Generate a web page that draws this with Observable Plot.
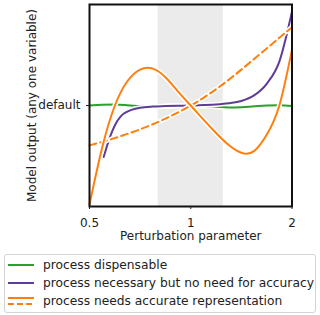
<!DOCTYPE html>
<html>
<head>
<meta charset="utf-8">
<script src="https://cdn.jsdelivr.net/npm/d3@7"></script>
<script src="https://cdn.jsdelivr.net/npm/@observablehq/plot@0.6"></script>
<style>
  html, body { margin: 0; padding: 0; background: #fff; }
  body { width: 320px; height: 315px; overflow: hidden; font-family: "DejaVu Sans", sans-serif; }
  #legend { margin: 6px 0 0 4px; width: 310px; border: 1px solid #d4d4d4; border-radius: 3px; padding: 1px 0 2px 0; font-size: 12.25px; color: #222; }
  .row { height: 18px; display: flex; align-items: center; }
  .row svg { margin-left: 3px; margin-right: 9px; }
</style>
</head>
<body>
<div id="chart"></div>
<div id="legend"></div>
<script>
// ---- data ----
const xTicks = [0.5, 1, 2];
const xTickLabels = ["0.5", "1", "2"];
const yTicks = [0];
const yTickLabels = ["default"];
const bandStart = [0.8];
const bandEnd = [1.25];

const seriesNames = [
  "process dispensable",
  "process necessary but no need for accuracy",
  "process needs accurate representation"
];
const seriesColors = ["#2ca02c", "#5e3c99", "#ff7f0e"];

// sample positions along the (log) x axis
const sampleX = [0.5, 0.545, 0.595, 0.648, 0.707, 0.771, 0.841, 0.917, 1.0, 1.091, 1.189, 1.297, 1.414, 1.542, 1.682, 1.834, 2.0];

const greenY  = [0.0, 0.008, 0.009, 0.003, -0.006, -0.012, -0.008, -0.002, 0.0, -0.004, -0.012, -0.019, -0.017, -0.008, 0.0, 0.002, -0.006];
const orangeY = [-0.98, -0.42, 0.0, 0.24, 0.355, 0.365, 0.28, 0.137, 0.0, -0.14, -0.272, -0.392, -0.468, -0.452, -0.29, 0.0, 0.553];
const dashedY = [-0.395, -0.36, -0.322, -0.281, -0.236, -0.186, -0.13, -0.068, 0.0, 0.076, 0.161, 0.255, 0.355, 0.46, 0.565, 0.67, 0.775];

const purpleX = [0.551, 0.574, 0.595, 0.62, 0.648, 0.707, 0.771, 0.841, 0.917, 1.0, 1.091, 1.189, 1.297, 1.414, 1.542, 1.682, 1.834, 2.0];
const purpleY = [-0.51, -0.32, -0.195, -0.105, -0.06, -0.022, -0.01, -0.006, -0.003, 0.0, 0.004, 0.01, 0.022, 0.045, 0.1, 0.215, 0.435, 0.93];

// ---- build tables ----
const toRows = (xs, ys) => xs.map((x, i) => ({x, y: ys[i]}));
const green = toRows(sampleX, greenY);
const purple = toRows(purpleX, purpleY);
const orange = toRows(sampleX, orangeY);
const dashed = toRows(sampleX, dashedY);
const band = bandStart.map((s, i) => ({x1: s, x2: bandEnd[i]}));

function lineWithHalo(data, color, curve, dash) {
  return [
    Plot.line(data, {x: "x", y: "y", stroke: "white", strokeWidth: 5, curve, strokeDasharray: dash}),
    Plot.line(data, {x: "x", y: "y", stroke: color, strokeWidth: 2, curve, strokeDasharray: dash})
  ];
}

const chart = Plot.plot({
  width: 320,
  height: 248,
  marginLeft: 89,
  marginRight: 28.5,
  marginTop: 4,
  marginBottom: 42,
  style: {fontFamily: "DejaVu Sans, sans-serif", fontSize: "12px", color: "#222", background: "white"},
  x: {type: "log", domain: [0.5, 2]},
  y: {domain: [-1, 1]},
  marks: [
    Plot.rect(band, {x1: "x1", x2: "x2", fill: "#ebebeb"}),
    ...lineWithHalo(green, seriesColors[0], "monotone-x"),
    ...lineWithHalo(purple, seriesColors[1], "monotone-x"),
    ...lineWithHalo(dashed, seriesColors[2], "natural", "7,4"),
    ...lineWithHalo(orange, seriesColors[2], "natural"),
    Plot.frame({stroke: "#111", strokeWidth: 2}),
    Plot.axisX({ticks: xTicks, tickFormat: (d) => xTickLabels[xTicks.indexOf(d)], tickSize: 3, tickPadding: 9,
      label: "Perturbation parameter", labelAnchor: "center", labelArrow: "none", labelOffset: 33, fontSize: 12}),
    Plot.axisY({ticks: yTicks, tickFormat: (d) => yTickLabels[yTicks.indexOf(d)], tickSize: 3, tickPadding: 6,
      label: "Model output (any one variable)", labelAnchor: "center", labelArrow: "none", labelOffset: 62, fontSize: 12})
  ]
});
document.getElementById("chart").appendChild(chart);

// ---- legend ----
const legend = document.getElementById("legend");
seriesNames.forEach((name, i) => {
  const row = document.createElement("div");
  row.className = "row";
  let sw;
  if (i === 2) {
    sw = `<svg width="26" height="12"><line x1="0" x2="26" y1="3" y2="3" stroke="${seriesColors[i]}" stroke-width="2"/><line x1="0" x2="26" y1="9" y2="9" stroke="${seriesColors[i]}" stroke-width="2" stroke-dasharray="6,3"/></svg>`;
  } else {
    sw = `<svg width="26" height="12"><line x1="0" x2="26" y1="6" y2="6" stroke="${seriesColors[i]}" stroke-width="2"/></svg>`;
  }
  row.innerHTML = sw + `<span>${name}</span>`;
  legend.appendChild(row);
});
</script>
</body>
</html>
